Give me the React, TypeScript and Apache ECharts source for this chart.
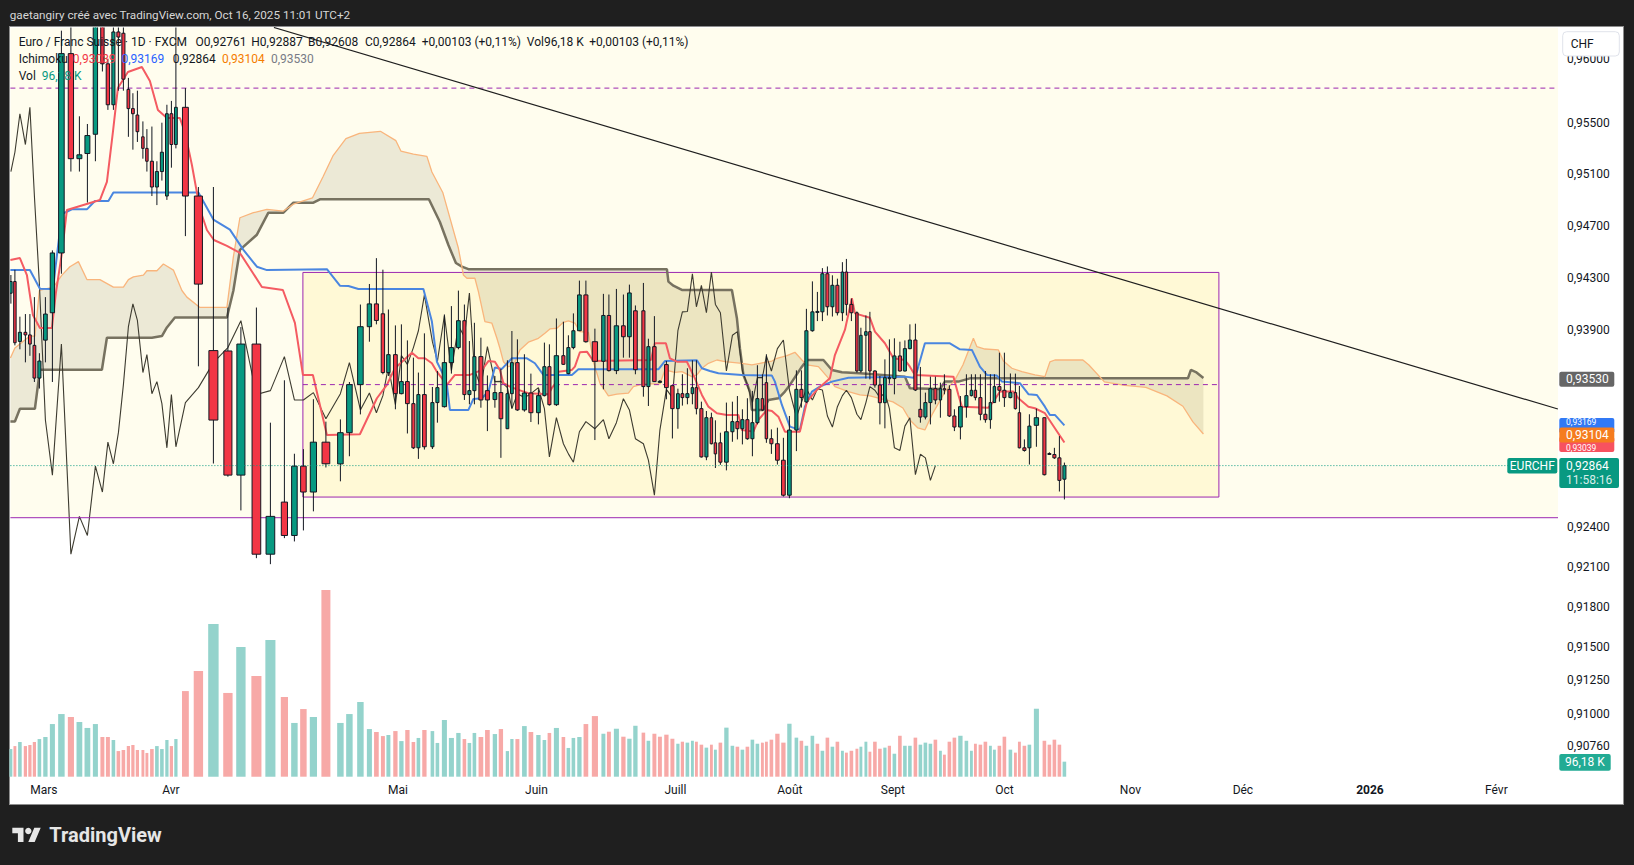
import React, { useEffect, useRef } from "react";
import * as echarts from "echarts";

const FONT = "Roboto, 'Noto Sans', 'DejaVu Sans', sans-serif";
const UP = "#089981";
const DOWN = "#f23645";
const VOL_UP = "#94d3cc";
const VOL_DN = "#f7a9a7";
const PURPLE = "#9c27b0";

// Position of each daily bar on the chart's (uneven) time scale, in slots
const barSlot = [
  0.1, 0.9, 1.9, 3.0, 3.9, 4.8, 5.8, 7.0, 8.4, 10.2,
  12.1, 13.8, 15.4, 17.0, 18.4, 19.5, 20.6, 21.6, 22.6, 23.6,
  24.5, 25.4, 26.5, 27.3, 28.3, 29.3, 30.3, 31.3, 32.2, 33.1,
  35.0, 37.6, 40.6, 43.5, 46.1, 49.2, 52.0, 54.8, 56.8, 58.6,
  60.6, 63.1, 66.0, 67.8, 70.0, 71.8, 73.2, 74.5, 75.6, 77.0,
  78.2, 79.4, 80.6, 81.6, 82.8, 84.4, 85.4, 86.8, 88.2, 89.6,
  90.8, 91.8, 92.8, 94.1, 95.4, 96.9, 98.1, 99.4, 100.3, 101.4,
  102.8, 104.1, 105.6, 106.8, 107.8, 109.2, 110.6, 111.6, 112.6, 113.8,
  115.1, 116.9, 118.6, 119.7, 121.2, 122.6, 123.8, 125.0, 126.6, 127.6,
  128.8, 129.9, 131.2, 132.4, 133.5, 134.4, 135.4, 136.4, 137.2, 138.2,
  139.2, 140.2, 141.0, 142.0, 143.2, 144.4, 145.4, 146.4, 147.4, 148.4,
  149.4, 150.4, 151.2, 152.2, 153.4, 154.6, 155.8, 157.2, 158.2, 159.2,
  160.4, 161.4, 162.4, 163.4, 164.4, 165.4, 166.4, 167.2, 168.2, 169.3,
  170.1, 171.1, 171.9, 172.9, 173.9, 174.9, 175.8, 176.8, 177.9, 178.9,
  179.9, 181.0, 182.0, 183.0, 184.0, 185.0, 186.0, 186.8, 187.8, 188.8,
  190.0, 191.2, 192.2, 193.0, 194.0, 195.0, 196.0, 196.8, 197.8, 198.8,
  200.0, 201.0, 201.8, 202.8, 203.8, 205.2, 206.8, 207.8, 208.8, 209.8,
  210.8,
];

const open = [
  0.9418, 0.9427, 0.9381, 0.9388, 0.9386, 0.9378, 0.9353, 0.9382, 0.9403, 0.9449,
  0.9604, 0.9522, 0.9526, 0.9541, 0.9632, 0.9596, 0.9564, 0.9621, 0.962, 0.9576,
  0.9561, 0.9556, 0.9539, 0.953, 0.952, 0.95, 0.9512, 0.9493, 0.9557, 0.9533,
  0.9562, 0.9493, 0.9374, 0.93737, 0.92792, 0.9379, 0.92195, 0.92588, 0.92336, 0.9286,
  0.92664, 0.93042, 0.92877, 0.93114, 0.9348, 0.93923, 0.94098, 0.94022, 0.93572, 0.93709,
  0.93411, 0.93503, 0.93335, 0.92999, 0.93404, 0.93007, 0.93343, 0.93312, 0.93648, 0.93763,
  0.93969, 0.93404, 0.93434, 0.93694, 0.93434, 0.93366, 0.93419, 0.93144, 0.93411, 0.93648,
  0.93287, 0.93416, 0.93266, 0.93396, 0.93617, 0.93327, 0.93701, 0.93564, 0.93763, 0.93892,
  0.94167, 0.93808, 0.93658, 0.94009, 0.93587, 0.9393, 0.93846, 0.94045, 0.94045, 0.93465,
  0.9377, 0.93503, 0.93633, 0.93472, 0.93297, 0.93411, 0.93381, 0.93411, 0.93457, 0.93297,
  0.9293, 0.93228, 0.93037, 0.93037, 0.9289, 0.93121, 0.93198, 0.93144, 0.93213, 0.93068,
  0.9319, 0.93373, 0.93495, 0.93068, 0.9303, 0.92905, 0.9264, 0.93134, 0.93444, 0.93348,
  0.93892, 0.94037, 0.94037, 0.9433, 0.94076, 0.94241, 0.9403, 0.94343, 0.94094, 0.9403,
  0.93584, 0.93857, 0.93885, 0.93584, 0.93477, 0.93342, 0.93526, 0.93526, 0.93699, 0.93584,
  0.93755, 0.93821, 0.93292, 0.93233, 0.93343, 0.93449, 0.93363, 0.93449, 0.93444, 0.93241,
  0.93157, 0.93312, 0.93396, 0.93437, 0.93381, 0.93254, 0.93213, 0.93343, 0.93465, 0.93437,
  0.93381, 0.93419, 0.93266, 0.92999, 0.92999, 0.9317, 0.93228, 0.92956, 0.92948, 0.92923,
  0.92761,
];

const high = [
  0.9432, 0.9436, 0.94, 0.9402, 0.9402, 0.9415, 0.9372, 0.9415, 0.9451, 0.9622,
  0.9625, 0.9555, 0.9549, 0.965, 0.965, 0.96, 0.964, 0.9632, 0.963, 0.9585,
  0.9573, 0.9575, 0.9551, 0.9545, 0.9547, 0.952, 0.955, 0.9564, 0.9567, 0.9628,
  0.9577, 0.95, 0.95, 0.9407, 0.9392, 0.9407, 0.9319, 0.93513, 0.92954, 0.92989,
  0.93369, 0.93198, 0.93215, 0.935, 0.94093, 0.94251, 0.9445, 0.94361, 0.94055, 0.93933,
  0.93941, 0.93818, 0.93686, 0.93572, 0.93872, 0.93462, 0.93584, 0.94017, 0.94081, 0.942,
  0.94093, 0.93813, 0.93953, 0.93839, 0.9355, 0.93546, 0.936, 0.93666, 0.9389, 0.93826,
  0.93712, 0.93564, 0.93444, 0.93801, 0.93788, 0.93986, 0.93961, 0.93857, 0.94025, 0.94277,
  0.94277, 0.93908, 0.94175, 0.9417, 0.94213, 0.9417, 0.94246, 0.94086, 0.94259, 0.93831,
  0.94004, 0.93515, 0.93661, 0.93472, 0.93449, 0.93559, 0.93605, 0.93666, 0.93666, 0.9335,
  0.93279, 0.93266, 0.93208, 0.93114, 0.93343, 0.9335, 0.93393, 0.93292, 0.93376, 0.93432,
  0.93628, 0.93559, 0.93712, 0.93139, 0.93152, 0.93075, 0.93241, 0.93589, 0.93589, 0.9406,
  0.94271, 0.9419, 0.94373, 0.94386, 0.94318, 0.94292, 0.94419, 0.94444, 0.94139, 0.9404,
  0.93915, 0.94009, 0.94037, 0.9359, 0.93546, 0.93673, 0.93826, 0.93834, 0.93808, 0.93818,
  0.93941, 0.93946, 0.93615, 0.93419, 0.93541, 0.93541, 0.93495, 0.93559, 0.93475, 0.93292,
  0.93393, 0.93559, 0.93559, 0.93559, 0.93559, 0.93584, 0.93559, 0.93559, 0.93724, 0.93724,
  0.93565, 0.93564, 0.9347, 0.93063, 0.93254, 0.93297, 0.93228, 0.92965, 0.92999, 0.93088,
  0.92887,
];

const low = [
  0.941, 0.9378, 0.9375, 0.9365, 0.937, 0.935, 0.9345, 0.9365, 0.935, 0.9433,
  0.9512, 0.9512, 0.9488, 0.952, 0.959, 0.956, 0.956, 0.9575, 0.9575, 0.9539,
  0.9529, 0.9535, 0.9522, 0.9512, 0.9493, 0.9486, 0.9505, 0.949, 0.9515, 0.953,
  0.9462, 0.9362, 0.9288, 0.9278, 0.92525, 0.92165, 0.9212, 0.92316, 0.92291, 0.92374,
  0.92518, 0.9285, 0.92745, 0.92935, 0.93253, 0.93808, 0.93941, 0.93559, 0.93546, 0.93292,
  0.93406, 0.93108, 0.9299, 0.92915, 0.92986, 0.9299, 0.9319, 0.93305, 0.93564, 0.9375,
  0.93363, 0.9333, 0.9333, 0.93304, 0.93126, 0.93304, 0.92923, 0.93144, 0.93299, 0.9328,
  0.93274, 0.93195, 0.93177, 0.9339, 0.9332, 0.93317, 0.9363, 0.93559, 0.9375, 0.9389,
  0.938, 0.93058, 0.93444, 0.9358, 0.9356, 0.93686, 0.93686, 0.93559, 0.93388, 0.93317,
  0.935, 0.93495, 0.93368, 0.9307, 0.93144, 0.9332, 0.9333, 0.9333, 0.93253, 0.92925,
  0.92905, 0.93025, 0.92846, 0.9287, 0.92828, 0.93045, 0.93063, 0.93025, 0.9306, 0.92935,
  0.93177, 0.9328, 0.93037, 0.92953, 0.92872, 0.9263, 0.92617, 0.92974, 0.93305, 0.9334,
  0.93885, 0.93966, 0.93966, 0.94009, 0.94001, 0.94009, 0.93966, 0.94009, 0.93966, 0.93572,
  0.93572, 0.93526, 0.9352, 0.93457, 0.93177, 0.93147, 0.93487, 0.93406, 0.9358, 0.9358,
  0.9375, 0.93431, 0.9319, 0.93215, 0.93177, 0.9333, 0.93228, 0.93406, 0.93233, 0.93126,
  0.93063, 0.93228, 0.9339, 0.9336, 0.93208, 0.9319, 0.93144, 0.9334, 0.9335, 0.9331,
  0.93376, 0.9329, 0.92995, 0.9297, 0.92872, 0.93007, 0.9279, 0.92945, 0.92915, 0.92668,
  0.92608,
];

const close = [
  0.9427, 0.938, 0.9388, 0.9386, 0.9379, 0.9353, 0.9366, 0.9402, 0.9449, 0.9604,
  0.9522, 0.9525, 0.954, 0.9632, 0.9596, 0.9564, 0.9621, 0.9617, 0.9584, 0.9561,
  0.9557, 0.9543, 0.953, 0.952, 0.95, 0.9512, 0.9527, 0.9557, 0.9533, 0.9562,
  0.9493, 0.9425, 0.9321, 0.92792, 0.9379, 0.92195, 0.9248, 0.92336, 0.9286, 0.92664,
  0.93042, 0.92878, 0.93114, 0.9348, 0.93923, 0.94098, 0.93971, 0.93572, 0.93709, 0.93411,
  0.93503, 0.93335, 0.92999, 0.93404, 0.93007, 0.93343, 0.93457, 0.93648, 0.93763, 0.93969,
  0.93404, 0.93434, 0.93694, 0.93363, 0.93363, 0.93419, 0.9322, 0.93411, 0.93648, 0.93287,
  0.93416, 0.93266, 0.93396, 0.93617, 0.93327, 0.93701, 0.93635, 0.93763, 0.93892, 0.94167,
  0.93808, 0.93658, 0.94009, 0.93587, 0.9393, 0.93846, 0.94182, 0.93594, 0.93465, 0.9377,
  0.93503, 0.93505, 0.93457, 0.93297, 0.93411, 0.93381, 0.93411, 0.93457, 0.93297, 0.9293,
  0.93228, 0.9303, 0.92953, 0.9289, 0.93121, 0.93198, 0.93144, 0.93213, 0.93068, 0.9319,
  0.93373, 0.93287, 0.93068, 0.9303, 0.92905, 0.9264, 0.93134, 0.93444, 0.93381, 0.93892,
  0.94037, 0.9404, 0.9433, 0.94076, 0.94241, 0.9403, 0.94343, 0.94094, 0.9403, 0.93584,
  0.93857, 0.93885, 0.93584, 0.93477, 0.93342, 0.93533, 0.93533, 0.93699, 0.93584, 0.93755,
  0.93821, 0.93439, 0.93233, 0.93343, 0.93449, 0.93363, 0.93449, 0.93439, 0.93241, 0.93157,
  0.93312, 0.93396, 0.93437, 0.93381, 0.93254, 0.93213, 0.93343, 0.93465, 0.93437, 0.93381,
  0.93419, 0.93297, 0.92999, 0.92979, 0.93164, 0.93228, 0.92795, 0.9295, 0.92923, 0.92752,
  0.92864,
];

// Volume in thousands
const volumeK = [
  177, 196, 222, 196, 203, 222, 241, 254, 337, 401,
  382, 350, 312, 337, 254, 254, 235, 164, 171, 196,
  203, 171, 171, 152, 177, 196, 177, 235, 196, 241,
  548, 676, 977, 536, 830, 644, 875, 510, 344, 433,
  382, 1195, 344, 401, 478, 305, 286, 260, 267, 292,
  228, 299, 222, 248, 299, 292, 216, 363, 248, 280,
  241, 216, 280, 254, 299, 273, 305, 164, 241, 241,
  324, 286, 267, 235, 280, 312, 254, 184, 248, 254,
  337, 388, 275, 288, 307, 256, 243, 326, 282, 230,
  275, 256, 269, 243, 211, 224, 218, 230, 224, 205,
  186, 205, 173, 218, 314, 198, 192, 173, 192, 237,
  211, 218, 224, 237, 275, 218, 339, 250, 230, 198,
  262, 211, 166, 250, 192, 224, 166, 154, 166, 179,
  192, 224, 160, 224, 179, 186, 198, 147, 262, 198,
  198, 250, 205, 218, 211, 237, 166, 141, 224, 250,
  262, 230, 166, 211, 205, 224, 198, 173, 198, 256,
  173, 154, 224, 198, 205, 435, 230, 205, 237, 205,
  96.18,
];

const volumeUp = [
  1, 0, 1, 0, 0, 0, 1, 1, 1, 1,
  0, 1, 1, 1, 0, 0, 1, 0, 0, 0,
  0, 0, 0, 0, 0, 1, 1, 1, 0, 1,
  0, 0, 1, 0, 1, 0, 1, 0, 1, 0,
  1, 0, 1, 1, 1, 1, 0, 0, 1, 0,
  1, 0, 0, 1, 0, 1, 1, 1, 1, 1,
  0, 1, 1, 0, 0, 1, 0, 1, 1, 0,
  1, 0, 1, 1, 0, 1, 0, 1, 1, 1,
  0, 0, 1, 0, 1, 0, 1, 1, 0, 1,
  0, 0, 0, 0, 1, 0, 1, 1, 0, 0,
  1, 0, 1, 0, 1, 1, 0, 1, 0, 1,
  1, 0, 0, 0, 0, 0, 1, 1, 0, 1,
  1, 0, 1, 0, 1, 0, 1, 0, 0, 0,
  1, 1, 0, 0, 0, 1, 0, 1, 0, 1,
  1, 0, 1, 1, 1, 0, 1, 0, 0, 0,
  1, 1, 1, 0, 0, 0, 1, 1, 0, 0,
  1, 0, 0, 0, 1, 1, 0, 0, 0, 0,
  1,
];

// Ichimoku lines: [slot, price]
const tenkanLine = [
  [0, 0.94436], [1.9, 0.94451], [3.3, 0.9432], [4.5, 0.94013], [5.9, 0.93913], [8.3, 0.93913], [9.1, 0.94182], [10.3, 0.9449], [11.3, 0.94822], [17.9, 0.94899],
  [19.3, 0.95039], [20.5, 0.95427], [21.5, 0.95771], [23.5, 0.95896], [26.3, 0.95935], [27.9, 0.95825], [29.5, 0.95599], [31.3, 0.95536], [33.9, 0.95536], [34.9, 0.95427],
  [36.3, 0.95171], [37.9, 0.9483], [39.3, 0.94667], [40.7, 0.9459], [43.3, 0.94544], [45.9, 0.9449], [48.5, 0.94336], [50.3, 0.94228], [54.5, 0.94205], [56.9, 0.93952],
  [58.5, 0.93554], [60.5, 0.93554], [63.3, 0.93097], [69.9, 0.93102], [73.3, 0.93376], [75.3, 0.93478], [76.9, 0.93605], [80.3, 0.93724], [81.6, 0.93681], [82.9, 0.93681],
  [84.3, 0.93643], [85.3, 0.93579], [87.3, 0.93478], [88.9, 0.93554], [91.9, 0.93554], [94.3, 0.93592], [95.6, 0.9366], [96.9, 0.93655], [97.9, 0.93592], [98.6, 0.93491],
  [99.9, 0.93465], [101.6, 0.9344], [103.6, 0.93415], [107.6, 0.93407], [108.3, 0.93455], [109.3, 0.93503], [109.6, 0.93579], [112.3, 0.93592], [112.9, 0.93617], [113.9, 0.93727],
  [115.3, 0.93732], [116.6, 0.9366], [128.1, 0.93668], [128.9, 0.93796], [131.1, 0.93796], [131.9, 0.93681], [133.3, 0.93655], [135.3, 0.93655], [136.9, 0.93528], [138.3, 0.93401],
  [139.6, 0.93312], [141.3, 0.93262], [143.3, 0.93249], [145.6, 0.93249], [146.3, 0.93135], [148.6, 0.93122], [149.6, 0.93211], [151.3, 0.93287], [152.3, 0.93279], [153.6, 0.93236],
  [154.9, 0.93122], [157.9, 0.93122], [159.3, 0.9335], [161.3, 0.9344], [163.9, 0.93529], [164.9, 0.93706], [166.9, 0.93898], [168.3, 0.94141], [168.9, 0.94025], [171.9, 0.93991],
  [172.9, 0.93885], [174.9, 0.93796], [176.6, 0.93681], [178.9, 0.93668], [179.9, 0.93617], [180.9, 0.93554], [188.6, 0.93541], [189.6, 0.93401], [190.3, 0.93312], [195.6, 0.93304],
  [196.6, 0.9335], [197.9, 0.93427], [200.6, 0.93427], [201.6, 0.93376], [203.6, 0.93312], [204.9, 0.933], [206.9, 0.93262], [208.9, 0.93148], [210.8, 0.93039],
];

const kijunLine = [
  [0, 0.94358], [3.9, 0.94358], [5.9, 0.94214], [8.5, 0.94212], [10.3, 0.94791], [12.3, 0.94827], [15.3, 0.94827], [16.9, 0.94892], [19.6, 0.94892], [20.6, 0.94958],
  [37.6, 0.94958], [40.6, 0.94748], [43.9, 0.9467], [46.6, 0.94514], [49.3, 0.94384], [51.3, 0.94358], [63.3, 0.94365], [65.9, 0.94238], [67.6, 0.94236], [69.6, 0.94213],
  [82.6, 0.94213], [84.3, 0.93962], [85.3, 0.93655], [86.6, 0.93554], [87.3, 0.93478], [87.9, 0.93287], [91.6, 0.93287], [92.6, 0.93371], [94.3, 0.93376], [95.6, 0.93427],
  [96.9, 0.9361], [98.3, 0.936], [100.3, 0.93681], [103.3, 0.93681], [104.9, 0.93643], [106.6, 0.93554], [112.3, 0.93554], [113.6, 0.93597], [129.6, 0.93597], [130.9, 0.9366],
  [137.3, 0.93666], [138.3, 0.93605], [139.9, 0.93584], [141.6, 0.93567], [146.3, 0.93554], [152.3, 0.93549], [152.9, 0.93503], [154.3, 0.93325], [155.9, 0.9316], [157.9, 0.93135],
  [158.9, 0.93312], [160.3, 0.93427], [161.9, 0.93465], [164.3, 0.93503], [167.6, 0.93533], [178.9, 0.93541], [180.6, 0.93533], [181.3, 0.93579], [182.9, 0.93796], [187.9, 0.93796],
  [189.9, 0.9375], [192.3, 0.93745], [193.9, 0.93617], [195.3, 0.93554], [197.3, 0.93549], [198.3, 0.93503], [201.9, 0.93491], [203.6, 0.93407], [205.3, 0.93401], [206.9, 0.93312],
  [207.9, 0.93249], [208.9, 0.93249], [210.8, 0.93169],
];

const senkouALine = [
  [0, 0.93683], [0.9, 0.9376], [3.9, 0.93851], [4.9, 0.93851], [5.8, 0.94201], [8.6, 0.94227], [10.3, 0.94319], [11.9, 0.94384], [13.6, 0.94423], [15.3, 0.94285],
  [17.9, 0.94285], [20.6, 0.94227], [22.6, 0.94227], [23.6, 0.94285], [24.6, 0.94306], [26.6, 0.94319], [27.3, 0.94353], [29.3, 0.94353], [30.6, 0.94405], [32.6, 0.94358],
  [34.3, 0.94201], [35.3, 0.9415], [37.9, 0.94071], [43.3, 0.94071], [44.6, 0.94462], [45.9, 0.94762], [48.6, 0.94801], [51.3, 0.94827], [54.6, 0.94814], [56.6, 0.94867],
  [60.4, 0.94915], [62.5, 0.95078], [64.5, 0.95241], [67.1, 0.95376], [69.8, 0.95417], [74.0, 0.95433], [77.1, 0.9536], [78.1, 0.95279], [80.6, 0.95255], [83.3, 0.95238],
  [84.3, 0.95116], [86.5, 0.94955], [89.6, 0.94526], [90.6, 0.9432], [91.3, 0.94295], [92.9, 0.94295], [93.6, 0.94192], [94.9, 0.93962], [96.3, 0.9395], [97.3, 0.93834],
  [97.9, 0.93758], [98.6, 0.93655], [99.6, 0.93617], [100.6, 0.93625], [101.9, 0.93745], [103.6, 0.93804], [105.6, 0.93834], [106.9, 0.93873], [107.9, 0.93906], [109.3, 0.93911],
  [110.6, 0.93957], [111.6, 0.93967], [112.9, 0.9395], [113.9, 0.93885], [115.6, 0.9388], [116.6, 0.93655], [117.9, 0.93491], [119.6, 0.93394], [121.3, 0.93407], [123.6, 0.93415],
  [124.6, 0.93465], [126.6, 0.93485], [129.9, 0.93485], [130.9, 0.93592], [132.9, 0.93574], [134.3, 0.93579], [136.3, 0.93541], [137.3, 0.93554], [138.3, 0.93605], [139.6, 0.93643],
  [141.3, 0.93668], [142.9, 0.93655], [146.3, 0.93643], [148.3, 0.9363], [149.9, 0.93643], [152.3, 0.9366], [153.3, 0.93681], [155.3, 0.93701], [156.9, 0.93727], [158.3, 0.93668],
  [159.3, 0.9363], [161.6, 0.93617], [163.6, 0.93529], [164.9, 0.93465], [167.6, 0.93427], [169.9, 0.93401], [171.9, 0.93394], [176.5, 0.93348], [178.5, 0.93302], [179.9, 0.93211],
  [181.5, 0.9315], [182.9, 0.93135], [184.3, 0.93249], [186.9, 0.93424], [188.9, 0.93516], [190.5, 0.9363], [192.6, 0.93834], [193.3, 0.9377], [194.9, 0.93752], [197.6, 0.93745],
  [198.6, 0.9366], [200.3, 0.93605], [202.3, 0.93579], [204.9, 0.93554], [206.9, 0.93541], [207.9, 0.93653], [208.9, 0.93668], [214.5, 0.93668], [215.7, 0.9363], [218.8, 0.93501],
  [222.9, 0.93475], [227.1, 0.93459], [231.3, 0.93394], [234.5, 0.93315], [236.5, 0.93196], [238.6, 0.93104],
];

const senkouBLine = [
  [0, 0.93199], [0.9, 0.93199], [1.9, 0.93296], [4.9, 0.93296], [5.9, 0.93593], [18.3, 0.93593], [19.3, 0.93838], [28.3, 0.93838], [30.3, 0.93851], [31.3, 0.93917],
  [32.9, 0.93994], [43.3, 0.93994], [44.6, 0.94201], [45.9, 0.94514], [49.3, 0.94631], [51.6, 0.94801], [54.6, 0.94801], [56.6, 0.94879], [60.6, 0.94879], [61.9, 0.94905],
  [83.7, 0.94905], [85.9, 0.94729], [87.6, 0.94551], [89.1, 0.94413], [90.3, 0.94385], [91.6, 0.94365], [131.3, 0.94365], [131.6, 0.94269], [132.6, 0.94238], [134.3, 0.94205],
  [144.3, 0.94205], [145.3, 0.93988], [145.9, 0.93758], [146.6, 0.93554], [147.9, 0.93427], [148.3, 0.93287], [150.6, 0.93287], [151.6, 0.93363], [153.6, 0.93376], [154.9, 0.93427],
  [155.9, 0.93478], [158.3, 0.93617], [159.3, 0.93668], [162.6, 0.93668], [164.3, 0.93592], [166.3, 0.93574], [169.9, 0.93567], [178.9, 0.93541], [179.9, 0.93452], [185.9, 0.93447],
  [186.9, 0.93503], [189.6, 0.93503], [191.9, 0.93528], [235.5, 0.93528], [236.1, 0.93592], [237.1, 0.93576], [238.6, 0.9353],
];

// Drawings
const trendLine = [[52.7, 0.96245], [309.5, 0.93294]];
const topDashedPrice = 0.9577;
const supportPrice = 0.9247;
const rangeTop = 0.9434;
const rangeBottom = 0.92626;
const rangeMid = 0.9348;
const rangeStart = 58.5;
const rangeEnd = 241.7;
const lastPrice = 0.92864;

// Axis ticks
const priceTicks = [0.96, 0.955, 0.951, 0.947, 0.943, 0.939, 0.924, 0.921, 0.918, 0.915, 0.9125, 0.91, 0.9076];
const monthLabels = ["Mars", "Avr", "Mai", "Juin", "Juill", "Août", "Sept", "Oct", "Nov", "Déc", "2026", "Févr"];
const monthSlots = [6.7, 32.1, 77.5, 105.2, 133.0, 155.9, 176.5, 198.8, 224.0, 246.5, 271.9, 297.2];

// Layout
const GRID_LEFT = 10.4;
const GRID_TOP = 27.5;
const GRID_W = 1547.6;
const GRID_H = 752;
const X_MAX = GRID_W / 5;
const PRICE_TOP = 0.96245;
const PRICE_BOTTOM = 0.90515;
const VOL_TOP = 400;
const VOL_H = 376.7;
const VOL_MAX = VOL_H * 6.4;

const LN = Math.log;
const fmt = (p: number) => p.toFixed(5).replace(".", ",");

function gapWidth(i: number, k: number) {
  const g: number[] = [];
  if (i > 0) g.push(barSlot[i] - barSlot[i - 1]);
  if (i < barSlot.length - 1) g.push(barSlot[i + 1] - barSlot[i]);
  return k * Math.min(...g);
}

export default function App() {
  const ref = useRef<HTMLDivElement>(null);

  useEffect(() => {
    const el = ref.current!;
    const chart = echarts.init(el, undefined, { renderer: "svg", width: 1634, height: 865 });

    const candleData = barSlot.map((s, i) => [s, LN(open[i]), LN(close[i]), LN(low[i]), LN(high[i]), gapWidth(i, 0.62)]);
    const volData = barSlot.map((s, i) => [s, volumeK[i], gapWidth(i, 0.72), volumeUp[i]]);
    const toLn = (arr: number[][]) => arr.map(([s, p]) => [s, LN(p)]);
    const chikou = close.slice(25).map((c, k) => [barSlot[k], LN(c)]);

    const lineSeries = (name: string, data: number[][], color: string, width: number, z: number, extra: any = {}) => ({
      type: "line",
      name,
      data,
      xAxisIndex: 0,
      yAxisIndex: 0,
      showSymbol: false,
      symbol: "none",
      silent: true,
      z,
      lineStyle: { color, width, ...extra },
    });

    const option: any = {
      animation: false,
      backgroundColor: "transparent",
      grid: [
        { left: GRID_LEFT, top: GRID_TOP, width: GRID_W, height: GRID_H, outerBoundsMode: "none", containLabel: false },
        { left: GRID_LEFT, top: VOL_TOP, width: GRID_W, height: VOL_H, outerBoundsMode: "none", containLabel: false },
      ],
      xAxis: [
        {
          type: "value",
          gridIndex: 0,
          min: 0,
          max: X_MAX,
          position: "bottom",
          axisLine: { show: false },
          axisTick: { show: false },
          splitLine: { show: false },
          axisLabel: {
            customValues: monthSlots,
            margin: 4,
            color: "#131722",
            fontSize: 12,
            fontFamily: FONT,
            formatter: (v: number) => {
              let idx = 0;
              let best = Infinity;
              monthSlots.forEach((m, j) => {
                if (Math.abs(m - v) < best) { best = Math.abs(m - v); idx = j; }
              });
              const t = monthLabels[idx];
              return /^\d{4}$/.test(t) ? `{b|${t}}` : t;
            },
            rich: { b: { fontWeight: "bold", fontSize: 12, fontFamily: FONT, color: "#131722" } },
          },
        },
        { type: "value", gridIndex: 1, min: 0, max: X_MAX, show: false },
      ],
      yAxis: [
        {
          type: "value",
          gridIndex: 0,
          position: "right",
          min: LN(PRICE_BOTTOM),
          max: LN(PRICE_TOP),
          axisLine: { show: false },
          axisTick: { show: false },
          splitLine: { show: false },
          axisLabel: {
            customValues: priceTicks.map((p) => LN(p)),
            margin: 9,
            color: "#131722",
            fontSize: 12,
            fontFamily: FONT,
            formatter: (v: number) => fmt(Math.exp(v)),
          },
        },
        { type: "value", gridIndex: 1, min: 0, max: VOL_MAX, show: false },
      ],
      series: [
        // background drawings (yellow zone + range rectangle)
        {
          type: "custom",
          name: "zones",
          xAxisIndex: 0,
          yAxisIndex: 0,
          silent: true,
          z: 0,
          clip: true,
          data: [[0, LN(0.94)]],
          encode: { x: 0, y: 1 },
          renderItem: (params: any, api: any) => {
            const a = api.coord([0, LN(PRICE_TOP)]);
            const b = api.coord([X_MAX, LN(supportPrice)]);
            const r1 = api.coord([rangeStart, LN(rangeTop)]);
            const r2 = api.coord([rangeEnd, LN(rangeBottom)]);
            return {
              type: "group",
              children: [
                { type: "rect", shape: { x: a[0], y: a[1], width: b[0] - a[0], height: b[1] - a[1] }, style: { fill: "#fffdee" } },
                {
                  type: "rect",
                  shape: { x: r1[0], y: r1[1], width: r2[0] - r1[0], height: r2[1] - r1[1] },
                  style: { fill: "rgba(255,236,120,0.2)", stroke: PURPLE, lineWidth: 1 },
                },
              ],
            };
          },
        },
        // Ichimoku cloud
        {
          type: "custom",
          name: "cloud",
          xAxisIndex: 0,
          yAxisIndex: 0,
          silent: true,
          z: 1,
          clip: true,
          data: [[0, LN(0.94)]],
          encode: { x: 0, y: 1 },
          renderItem: (params: any, api: any) => {
            const pa = senkouALine.map(([s, p]) => api.coord([s, LN(p)]));
            const pb = senkouBLine.slice().reverse().map(([s, p]) => api.coord([s, LN(p)]));
            return { type: "polygon", shape: { points: pa.concat(pb) }, style: { fill: "rgba(120,110,70,0.14)" } };
          },
        },
        // Volume
        {
          type: "custom",
          name: "Vol",
          xAxisIndex: 1,
          yAxisIndex: 1,
          silent: true,
          z: 1,
          data: volData,
          encode: { x: 0, y: 1 },
          renderItem: (params: any, api: any) => {
            const x = api.value(0);
            const v = api.value(1);
            const w = api.value(2);
            const up = api.value(3) === 1;
            const p0 = api.coord([x, 0]);
            const p1 = api.coord([x, v]);
            const bw = Math.max(1, api.size([w, 0])[0]);
            return {
              type: "rect",
              shape: { x: p0[0] - bw / 2, y: p1[1], width: bw, height: p0[1] - p1[1] },
              style: { fill: up ? VOL_UP : VOL_DN },
            };
          },
        },
        lineSeries("Senkou B", toLn(senkouBLine), "#777260", 2.5, 2),
        lineSeries("Senkou A", toLn(senkouALine), "#f9b57c", 1.3, 2),
        lineSeries("Chikou", chikou, "#3d3b30", 1.1, 2),
        lineSeries("Kijun", toLn(kijunLine), "#4a86e0", 2, 3),
        lineSeries("Tenkan", toLn(tenkanLine), "#f45b62", 2, 3),
        // drawings
        lineSeries("Résistance", [[0, LN(topDashedPrice)], [X_MAX, LN(topDashedPrice)]], PURPLE, 1, 3, { type: [5, 4] }),
        lineSeries("Milieu", [[rangeStart, LN(rangeMid)], [rangeEnd, LN(rangeMid)]], PURPLE, 1, 3, { type: [5, 4] }),
        lineSeries("Support", [[0, LN(supportPrice)], [X_MAX, LN(supportPrice)]], PURPLE, 1, 3),
        lineSeries("Tendance", toLn(trendLine), "#1e1e1e", 1.2, 3),
        // candles
        {
          type: "custom",
          name: "EURCHF",
          xAxisIndex: 0,
          yAxisIndex: 0,
          silent: true,
          z: 5,
          clip: true,
          data: candleData,
          encode: { x: 0, y: [1, 2, 3, 4] },
          renderItem: (params: any, api: any) => {
            const x = api.value(0);
            const o = api.value(1);
            const c = api.value(2);
            const l = api.value(3);
            const h = api.value(4);
            const w = api.value(5);
            const pO = api.coord([x, o]);
            const pC = api.coord([x, c]);
            const pL = api.coord([x, l]);
            const pH = api.coord([x, h]);
            const bw = Math.max(2, api.size([w, 0])[0]);
            const up = c >= o;
            const top = Math.min(pO[1], pC[1]);
            const bh = Math.max(1, Math.abs(pO[1] - pC[1]));
            const cx = pO[0];
            return {
              type: "group",
              children: [
                { type: "line", shape: { x1: cx, y1: pH[1], x2: cx, y2: pL[1] }, style: { stroke: "#131722", lineWidth: 1 } },
                {
                  type: "rect",
                  shape: { x: cx - bw / 2, y: top, width: bw, height: bh },
                  style: { fill: up ? UP : DOWN, stroke: "#131722", lineWidth: 1 },
                },
              ],
            };
          },
        },
        lineSeries("Prix", [[0, LN(lastPrice)], [X_MAX, LN(lastPrice)]], UP, 1, 6, { type: [1, 2] }),
      ],
    };

    chart.setOption(option);

    const yv = (p: number) => chart.convertToPixel({ yAxisIndex: 0 }, LN(p)) as unknown as number;
    const yVol = (v: number) => chart.convertToPixel({ yAxisIndex: 1 }, v) as unknown as number;

    const g: any[] = [];
    const txt = (x: number, y: number, text: string, fill: string, size = 12, weight = "normal", align = "left", z = 100) =>
      g.push({
        type: "text",
        z,
        x,
        y,
        silent: true,
        style: { text, fill, font: `${weight} ${size}px ${FONT}`, align, verticalAlign: "middle" },
      });
    const box = (x: number, y: number, w: number, h: number, fill: string, z = 100, r: any = 2, stroke?: string) =>
      g.push({ type: "rect", z, silent: true, shape: { x, y, width: w, height: h, r }, style: { fill, stroke, lineWidth: stroke ? 1 : 0 } });

    // header
    txt(9.8, 15, "gaetangiry créé avec TradingView.com, Oct 16, 2025 11:01 UTC+2", "#d6d6d6", 11.7);

    // legend
    txt(18.7, 41.7, "Euro / Franc Suisse · 1D · FXCM", "#131722");
    txt(195.5, 41.7, "O0,92761", "#131722");
    txt(251.3, 41.7, "H0,92887", "#131722");
    txt(308, 41.7, "B0,92608", "#131722");
    txt(365, 41.7, "C0,92864", "#131722");
    txt(421.8, 41.7, "+0,00103 (+0,11%)", "#131722");
    txt(526.8, 41.7, "Vol96,18 K", "#131722");
    txt(589.3, 41.7, "+0,00103 (+0,11%)", "#131722");
    txt(18.7, 59.3, "Ichimoku", "#131722");
    txt(72.8, 59.3, "0,93039", "#f23645");
    txt(121.4, 59.3, "0,93169", "#2962ff");
    txt(172.8, 59.3, "0,92864", "#131722");
    txt(221.9, 59.3, "0,93104", "#f57c00");
    txt(271, 59.3, "0,93530", "#787b86");
    txt(18.7, 76, "Vol", "#131722");
    txt(41.7, 76, "96,18 K", "#089981");

    // CHF button
    box(1562.7, 31.7, 56.6, 24.3, "#ffffff", 100, 4, "#e0e3eb");
    txt(1570.7, 44, "CHF", "#131722", 12, "normal", "left", 101);

    // price scale tags (stacked; the partly covered ones use a smaller text)
    const tagW = 55;
    const tagH = 15.2;
    const yS = yv(0.9353) + 1.2;
    box(1559.3, yS - tagH / 2, tagW, tagH, "#666666", 102);
    txt(1566, yS, "0,93530", "#ffffff", 12, "normal", "left", 103);

    const yO = yv(0.93104) + 1;
    const yB = yO - 9.3;
    const yR = yO + 9.3;
    box(1559.3, yB - tagH / 2, tagW, tagH, "#3179f5", 102);
    txt(1566, yB - 3.2, "0,93169", "#ffffff", 8.5, "normal", "left", 103);
    box(1559.3, yR - tagH / 2, tagW, tagH, "#f7525f", 102);
    txt(1566, yR + 3.4, "0,93039", "#ffffff", 8.5, "normal", "left", 103);
    box(1559.3, yO - tagH / 2, tagW, tagH, "#f57c1f", 104);
    txt(1566, yO, "0,93104", "#ffffff", 12, "normal", "left", 105);

    const py = yv(lastPrice);
    box(1559.3, py - 7.7, 59.7, 30, UP, 106);
    txt(1566, py, "0,92864", "#ffffff", 12, "normal", "left", 107);
    txt(1566, py + 14.5, "11:58:16", "rgba(255,255,255,0.85)", 12, "normal", "left", 107);
    box(1507.3, py - 7.7, 50, 15.7, UP, 106);
    txt(1532.3, py, "EURCHF", "#ffffff", 12, "normal", "center", 107);

    const vy = yVol(96.18);
    box(1559.3, vy - 7.6, 51.4, 16.7, "#22ab94", 104);
    txt(1565, vy + 0.8, "96,18 K", "#ffffff", 12, "normal", "left", 105);

    // TradingView logo
    g.push({ type: "tvlogo", z: 100, silent: true, x: 12.3, y: 824.5, scaleX: 0.8, scaleY: 0.8, style: { fill: "#e6e6e6" } });
    g.push({ type: "circle", z: 100, silent: true, shape: { cx: 12.3 + 20 * 0.8, cy: 824.5 + 8 * 0.8, r: 4 * 0.8 }, style: { fill: "#e6e6e6" } });
    txt(49.3, 835, "TradingView", "#e6e6e6", 20, "bold");

    chart.setOption({ graphic: g });

    return () => chart.dispose();
  }, []);

  return (
    <div style={{ position: "fixed", left: 0, top: 0, width: 1634, height: 865, background: "#1f1f1f", overflow: "hidden" }}>
      <div
        style={{
          position: "absolute",
          left: 10,
          top: 27,
          width: 1613,
          height: 777,
          background: "#ffffff",
          boxShadow: "0 0 0 1px #8d8d8d",
        }}
      />
      <div ref={ref} style={{ position: "absolute", left: 0, top: 0, width: 1634, height: 865 }} />
    </div>
  );
}

echarts.graphic.registerShape(
  "tvlogo",
  echarts.graphic.extendPath("M14 22H7V11H0V4h14v18zM28 22h-8l7.5-18h8L28 22z", {}) as any
);
